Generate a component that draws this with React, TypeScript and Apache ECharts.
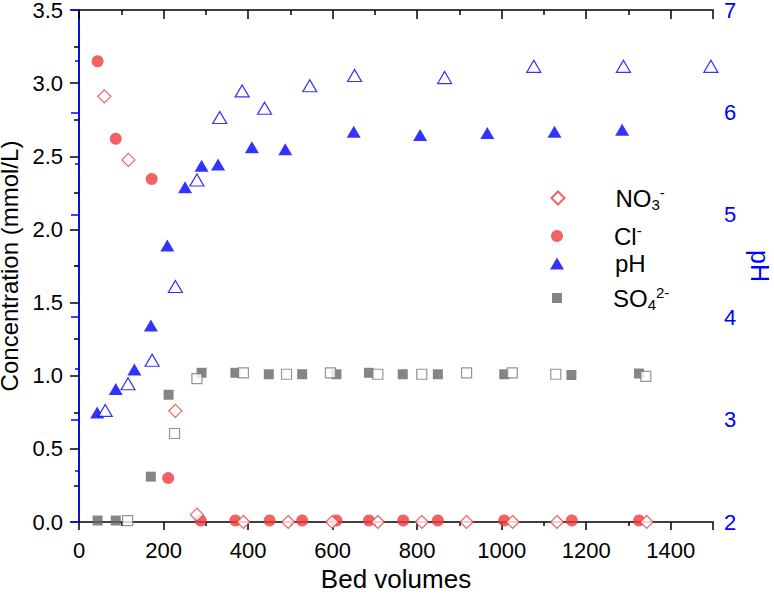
import React, { useEffect, useRef } from "react";
import * as echarts from "echarts";

// Bed volumes (x) and values
const bvNO3 = [60, 117, 228, 279, 389, 495, 599, 707, 811, 917, 1026, 1131, 1343];
const no3 = [2.91, 2.475, 0.76, 0.05, 0.0, 0.0, 0.0, 0.0, 0.0, 0.0, 0.0, 0.0, 0.0];

const bvCl = [44, 87, 172, 211, 288, 370, 451, 528, 609, 686, 767, 849, 1006, 1166, 1325];
const cl = [3.15, 2.62, 2.345, 0.3, 0.01, 0.01, 0.01, 0.01, 0.01, 0.01, 0.01, 0.01, 0.01, 0.01, 0.01];

const bvPH = [43, 87, 131, 170, 209, 251, 290, 329, 409, 488, 650, 807, 966, 1125, 1285];
const ph = [3.07, 3.3, 3.49, 3.92, 4.7, 5.27, 5.48, 5.49, 5.66, 5.64, 5.81, 5.78, 5.8, 5.81, 5.83];

const bvPH2 = [62, 116, 173, 228, 279, 333, 386, 439, 546, 652, 865, 1076, 1288, 1495];
const ph2 = [3.09, 3.35, 3.58, 4.3, 5.34, 5.95, 6.21, 6.04, 6.26, 6.36, 6.34, 6.45, 6.45, 6.45];

const bvSO4 = [44, 87, 170, 212, 290, 370, 449, 528, 609, 686, 766, 849, 1006, 1165, 1325];
const so4 = [0.01, 0.01, 0.31, 0.87, 1.02, 1.02, 1.01, 1.01, 1.01, 1.02, 1.01, 1.01, 1.01, 1.005, 1.015];

const bvSO4b = [115, 226, 279, 389, 491, 595, 707, 811, 917, 1025, 1128, 1341];
const so4b = [0.01, 0.605, 0.98, 1.02, 1.01, 1.02, 1.01, 1.01, 1.02, 1.02, 1.01, 0.995];

const RED = "#EF3B3B";
const BLUE = "#0000FF";
const GRAY = "#666666";
const GRAY2 = "#7a7a7a";
const FONT = "Liberation Sans";

const zip = (xs: number[], ys: number[]) => xs.map((x, i) => [x, ys[i]]);

const LH = 27;
const rich = {
  sp: { width: 46, fontSize: 24, lineHeight: LH },
  m: { fontSize: 24, fontFamily: FONT, color: "#000", lineHeight: LH, verticalAlign: "middle" },
  sub: { fontSize: 15, fontFamily: FONT, color: "#000", lineHeight: 14, verticalAlign: "bottom" },
  sup: { fontSize: 15, fontFamily: FONT, color: "#000", lineHeight: 14, verticalAlign: "top" },
};

const legendNames: Record<string, string> = {
  NO3: "{sp|}{m|NO}{sub|3}{sup|-}",
  Cl: "{sp|}{m|Cl}{sup|-}",
  pH: "{sp|}{m|pH}",
  SO4: "{sp|}{m|SO}{sub|4}{sup|2-}",
};

function makeLegend(name: string, centerY: number, w: number, h: number) {
  return {
    data: [name],
    orient: "vertical",
    left: 557 - w / 2,
    top: centerY - LH / 2,
    padding: 0,
    itemWidth: w,
    itemHeight: h,
    itemGap: 0,
    selectedMode: false,
    formatter: (n: string) => legendNames[n],
    textStyle: { rich },
  };
}

export default function App() {
  const ref = useRef<HTMLDivElement>(null);
  useEffect(() => {
    if (!ref.current) return;
    document.body.style.margin = "0";
    const chart = echarts.init(ref.current, null, { renderer: "svg" });
    const axisLabel = { fontFamily: FONT, fontSize: 22, lineHeight: 18, color: "#000" };
    chart.setOption({
      animation: false,
      backgroundColor: "#fff",
      grid: { left: 79, right: 61, top: 10, bottom: 77, containLabel: false, outerBoundsMode: "none" },
      legend: [
        makeLegend("NO3", 198, 13, 13),
        makeLegend("Cl", 236, 12, 12),
        makeLegend("pH", 265, 14, 12),
        makeLegend("SO4", 298, 10, 10),
      ],
      xAxis: [
        {
          type: "value",
          min: 0,
          max: 1500,
          interval: 200,
          name: "Bed volumes",
          nameLocation: "middle",
          nameGap: 46,
          nameTextStyle: { fontFamily: FONT, fontSize: 26, lineHeight: 22, color: "#000" },
          axisLine: { lineStyle: { color: "#000", width: 1.5 } },
          axisTick: { show: true, inside: false, length: 8, lineStyle: { color: "#000", width: 1.5 } },
          minorTick: { show: true, splitNumber: 2, length: 4, lineStyle: { color: "#000", width: 1.5 } },
          axisLabel: { ...axisLabel, margin: 19, showMaxLabel: false, formatter: (v: number) => String(v) },
          splitLine: { show: false },
        },
        {
          type: "value",
          position: "top",
          min: 0,
          max: 1500,
          interval: 200,
          axisLine: { lineStyle: { color: "#000", width: 1.5 } },
          axisTick: { show: true, inside: true, length: 9, lineStyle: { color: "#000", width: 1.5 } },
          minorTick: { show: true, splitNumber: 2, length: 5, lineStyle: { color: "#000", width: 1.5 } },
          axisLabel: { show: false },
          splitLine: { show: false },
        },
      ],
      yAxis: [
        {
          type: "value",
          min: 0,
          max: 3.5,
          interval: 0.5,
          name: "Concentration (mmol/L)",
          nameLocation: "middle",
          nameGap: 55,
          nameTextStyle: { fontFamily: FONT, fontSize: 24, lineHeight: 21, color: "#000" },
          axisLine: { show: true, lineStyle: { color: "#000", width: 1.5 } },
          axisTick: { show: true, inside: false, length: 9, lineStyle: { color: "#000", width: 1.5 } },
          minorTick: { show: true, splitNumber: 2, length: 5, lineStyle: { color: "#000", width: 1.5 } },
          axisLabel: { ...axisLabel, margin: 16, formatter: (v: number) => v.toFixed(1) },
          splitLine: { show: false },
        },
        {
          type: "value",
          position: "right",
          min: 2,
          max: 7,
          interval: 1,
          name: "pH",
          nameLocation: "middle",
          nameRotate: -90,
          nameGap: 35,
          nameTextStyle: { fontFamily: FONT, fontSize: 25, lineHeight: 22, color: BLUE },
          axisLine: { show: true, lineStyle: { color: BLUE, width: 1.5 } },
          axisTick: { show: true, inside: true, length: 8, lineStyle: { color: BLUE, width: 1.5 } },
          minorTick: { show: true, splitNumber: 2, length: 4, lineStyle: { color: BLUE, width: 1.5 } },
          axisLabel: { ...axisLabel, color: BLUE, margin: 11 },
          splitLine: { show: false },
        },
      ],
      series: [
        {
          name: "SO4",
          type: "scatter",
          yAxisIndex: 0,
          symbol: "rect",
          symbolSize: 10,
          itemStyle: { color: GRAY },
          data: zip(bvSO4, so4),
        },
        {
          name: "SO4 b",
          type: "scatter",
          yAxisIndex: 0,
          symbol: "rect",
          symbolSize: 10,
          itemStyle: { color: "#fff", borderColor: GRAY2, borderWidth: 1.2 },
          data: zip(bvSO4b, so4b),
        },
        {
          name: "Cl",
          type: "scatter",
          yAxisIndex: 0,
          symbol: "circle",
          symbolSize: 12,
          itemStyle: { color: RED },
          data: zip(bvCl, cl),
        },
        {
          name: "NO3",
          type: "scatter",
          yAxisIndex: 0,
          symbol: "diamond",
          symbolSize: 13,
          itemStyle: { color: "#fff", borderColor: RED, borderWidth: 1.2 },
          data: zip(bvNO3, no3),
        },
        {
          name: "pH",
          type: "scatter",
          yAxisIndex: 1,
          symbol: "triangle",
          symbolSize: [14, 12],
          itemStyle: { color: BLUE },
          data: zip(bvPH, ph),
        },
        {
          name: "pH b",
          type: "scatter",
          yAxisIndex: 1,
          symbol: "triangle",
          symbolSize: [14, 12],
          itemStyle: { color: "#fff", borderColor: BLUE, borderWidth: 1.2 },
          data: zip(bvPH2, ph2),
        },
      ],
    });
    return () => chart.dispose();
  }, []);
  return <div ref={ref} style={{ width: 774, height: 599 }} />;
}
